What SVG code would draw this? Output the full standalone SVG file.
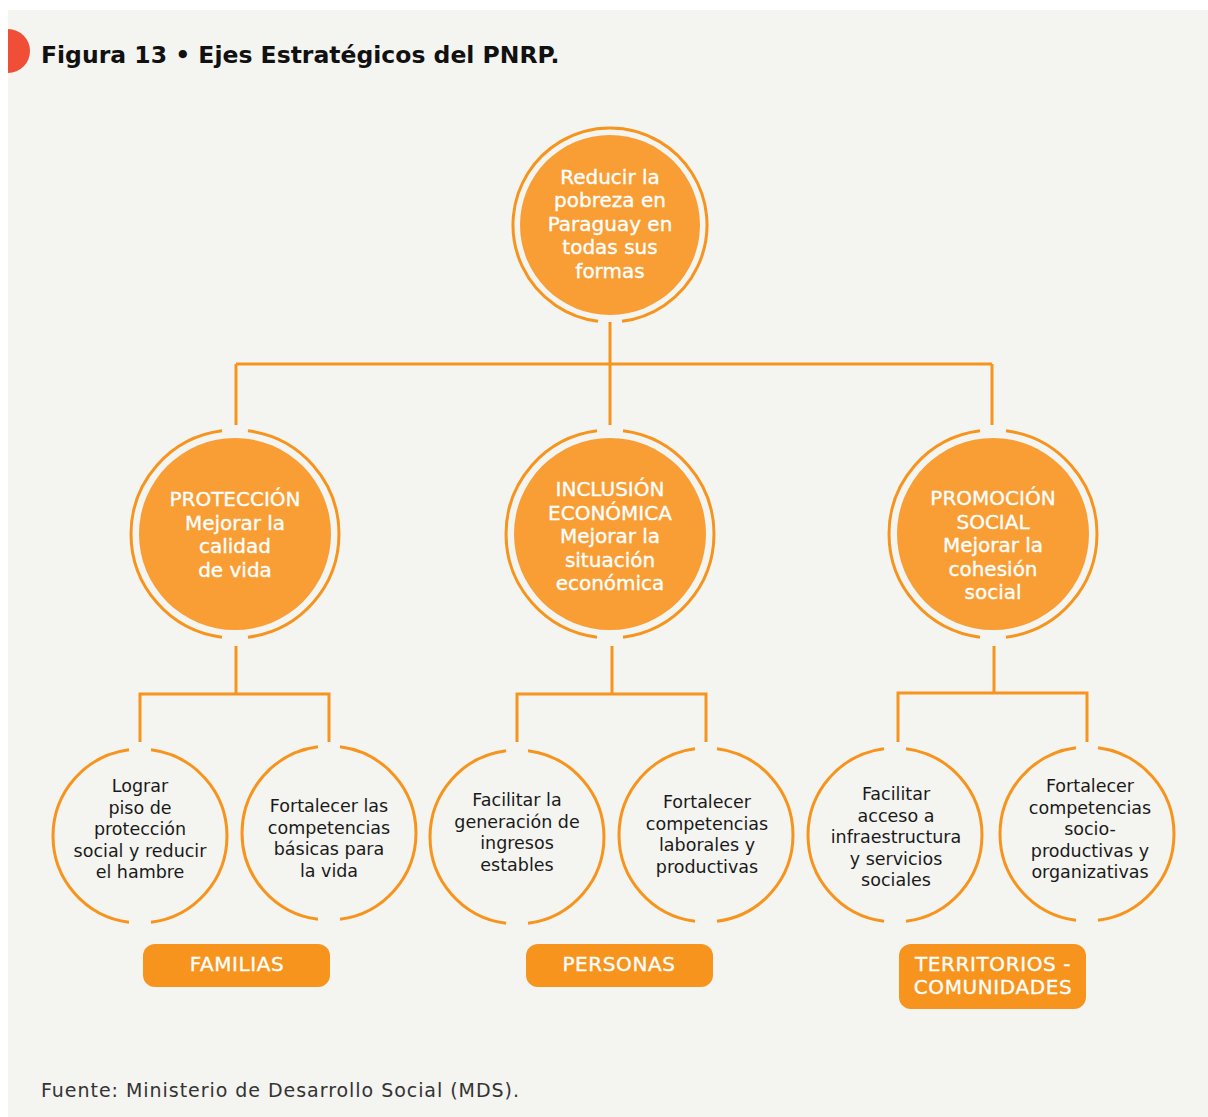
<svg xmlns="http://www.w3.org/2000/svg" width="1208" height="1117" viewBox="0 0 1208 1117">
<style>
.ring{fill:none;stroke:#F7941D;stroke-width:3}
.fill{fill:#F89E35}
.conn{fill:none;stroke:#F7941D;stroke-width:3;stroke-linecap:butt}
.box{fill:#F7941D}
.wt{font-family:"DejaVu Sans",sans-serif;font-size:20px;fill:#fff;stroke:#fff;stroke-width:0.35;text-anchor:middle}
.lb{letter-spacing:0.6px}
.bt{font-family:"DejaVu Sans",sans-serif;font-size:17.5px;fill:#1a1a1a;text-anchor:middle}
</style>
<rect x="0" y="0" width="1208" height="1117" fill="#ffffff"/>
<rect x="8" y="10" width="1200" height="1107" fill="#F4F4F0"/>
<path d="M8,29 A22,22 0 0 1 8,73 Z" fill="#F04E37"/>
<text x="41" y="63" font-family="DejaVu Sans, sans-serif" font-weight="bold" font-size="23.5" fill="#111">Figura 13 • Ejes Estratégicos del PNRP.</text>

<g id="connectors">
<path class="conn" d="M610,322 V425 M236,364 H992 M236,364 V425 M992,364 V425"/>
<path class="conn" d="M236,646 V694 M140,694 H329 M140,692.5 V742 M329,692.5 V742"/>
<path class="conn" d="M612,646 V694 M517,694 H706 M517,692.5 V742 M706,692.5 V742"/>
<path class="conn" d="M994,646 V693 M898,693 H1087 M898,691.5 V742 M1087,691.5 V742"/>
</g>

<g id="root">
<circle class="fill" cx="610" cy="225" r="90"/>
<path class="ring" d="M598,321.25 A97,97 0 1 1 622,321.25"/>
<text class="wt" x="610" y="183.5">Reducir la</text>
<text class="wt" x="610" y="207">pobreza en</text>
<text class="wt" x="610" y="230.5">Paraguay en</text>
<text class="wt" x="610" y="254">todas sus</text>
<text class="wt" x="610" y="277.5">formas</text>
</g>

<g id="proteccion">
<circle class="fill" cx="235" cy="534" r="96"/>
<path class="ring" d="M222,430.82 A104,104 0 0 0 222,637.18 M248,430.82 A104,104 0 0 1 248,637.18"/>
<text class="wt" x="235" y="506">PROTECCIÓN</text>
<text class="wt" x="235" y="529.5">Mejorar la</text>
<text class="wt" x="235" y="553">calidad</text>
<text class="wt" x="235" y="576.5">de vida</text>
</g>

<g id="inclusion">
<circle class="fill" cx="610" cy="534" r="96"/>
<path class="ring" d="M597,430.82 A104,104 0 0 0 597,637.18 M623,430.82 A104,104 0 0 1 623,637.18"/>
<text class="wt" x="610" y="496">INCLUSIÓN</text>
<text class="wt" x="610" y="519.5">ECONÓMICA</text>
<text class="wt" x="610" y="543">Mejorar la</text>
<text class="wt" x="610" y="566.5">situación</text>
<text class="wt" x="610" y="590">económica</text>
</g>

<g id="promocion">
<circle class="fill" cx="993" cy="534" r="96"/>
<path class="ring" d="M980,430.82 A104,104 0 0 0 980,637.18 M1006,430.82 A104,104 0 0 1 1006,637.18"/>
<text class="wt" x="993" y="505">PROMOCIÓN</text>
<text class="wt" x="993" y="528.5">SOCIAL</text>
<text class="wt" x="993" y="552">Mejorar la</text>
<text class="wt" x="993" y="575.5">cohesión</text>
<text class="wt" x="993" y="599">social</text>
</g>

<g id="lograr">
<path class="ring" d="M129,749.7 A87,87 0 0 0 129,922.3 M151,749.7 A87,87 0 0 1 151,922.3"/>
<text class="bt" x="140" y="792">Lograr</text>
<text class="bt" x="140" y="813.5">piso de</text>
<text class="bt" x="140" y="835">protección</text>
<text class="bt" x="140" y="856.5">social y reducir</text>
<text class="bt" x="140" y="878">el hambre</text>
</g>

<g id="fortalecer-basicas">
<path class="ring" d="M318,746.7 A87,87 0 0 0 318,919.3 M340,746.7 A87,87 0 0 1 340,919.3"/>
<text class="bt" x="329" y="812">Fortalecer las</text>
<text class="bt" x="329" y="833.5">competencias</text>
<text class="bt" x="329" y="855">básicas para</text>
<text class="bt" x="329" y="876.5">la vida</text>
</g>

<g id="facilitar-ingresos">
<path class="ring" d="M506,750.7 A87,87 0 0 0 506,923.3 M528,750.7 A87,87 0 0 1 528,923.3"/>
<text class="bt" x="517" y="806">Facilitar la</text>
<text class="bt" x="517" y="827.5">generación de</text>
<text class="bt" x="517" y="849">ingresos</text>
<text class="bt" x="517" y="870.5">estables</text>
</g>

<g id="fortalecer-laborales">
<path class="ring" d="M695,748.7 A87,87 0 0 0 695,921.3 M717,748.7 A87,87 0 0 1 717,921.3"/>
<text class="bt" x="707" y="808">Fortalecer</text>
<text class="bt" x="707" y="829.5">competencias</text>
<text class="bt" x="707" y="851">laborales y</text>
<text class="bt" x="707" y="872.5">productivas</text>
</g>

<g id="facilitar-infraestructura">
<path class="ring" d="M884,748.7 A87,87 0 0 0 884,921.3 M906,748.7 A87,87 0 0 1 906,921.3"/>
<text class="bt" x="896" y="800">Facilitar</text>
<text class="bt" x="896" y="821.5">acceso a</text>
<text class="bt" x="896" y="843">infraestructura</text>
<text class="bt" x="896" y="864.5">y servicios</text>
<text class="bt" x="896" y="886">sociales</text>
</g>

<g id="fortalecer-socio">
<path class="ring" d="M1076,747.7 A87,87 0 0 0 1076,920.3 M1098,747.7 A87,87 0 0 1 1098,920.3"/>
<text class="bt" x="1090" y="792">Fortalecer</text>
<text class="bt" x="1090" y="813.5">competencias</text>
<text class="bt" x="1090" y="835">socio-</text>
<text class="bt" x="1090" y="856.5">productivas y</text>
<text class="bt" x="1090" y="878">organizativas</text>
</g>

<g id="familias">
<rect class="box" x="143" y="944" width="187" height="43" rx="12"/>
<text class="wt lb" x="237" y="971">FAMILIAS</text>
</g>
<g id="personas">
<rect class="box" x="526" y="944" width="187" height="43" rx="12"/>
<text class="wt lb" x="619" y="971">PERSONAS</text>
</g>
<g id="territorios">
<rect class="box" x="899" y="944" width="187" height="65" rx="12"/>
<text class="wt lb" x="993" y="971">TERRITORIOS -</text>
<text class="wt lb" x="993" y="994">COMUNIDADES</text>
</g>

<text x="41" y="1097" font-family="DejaVu Sans, sans-serif" font-size="19" fill="#333" textLength="478" lengthAdjust="spacing">Fuente: Ministerio de Desarrollo Social (MDS).</text>
</svg>
